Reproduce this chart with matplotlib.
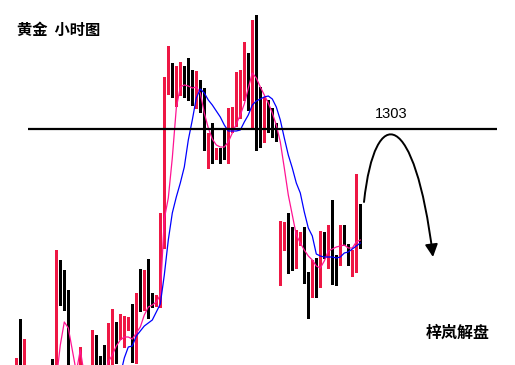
import numpy as np
import matplotlib.pyplot as plt
from matplotlib.patches import FancyArrowPatch
from matplotlib.path import Path

nan = np.nan

# gold, 1-hour bars, oldest first (nan = bar sits below the visible window)
opens = ([1277.5, 1278.5, 1277.5] + [nan] * 6 +
         [1278.5, 1278.0, 1288.7, 1287.9, 1286.9, nan, nan, 1277.5, nan, nan,
          1278.0, 1281.3, 1278.5, 1280.2, 1278.5, 1282.6, 1283.0, 1282.4, 1281.6, 1283.0,
          1283.3, 1281.0, 1285.6, 1285.2, 1287.7, 1285.9, 1285.4, 1285.4, 1291.4, 1306.6,
          1308.5, 1306.4, 1306.8, 1308.9, 1307.4, 1306.1, 1305.7, 1307.6, 1306.4, 1300.8,
          1302.6, 1300.6, 1301.0, 1301.1, 1300.6, 1303.5, 1303.6, 1304.6, 1307.1, 1309.7,
          1305.7, 1313.5, 1303.4, 1303.1, 1305.4, 1304.2, 1303.2, 1289.1, 1292.2, 1292.6,
          1291.6, 1289.9, 1291.7, 1292.4, 1288.4, 1287.2, 1288.9, 1288.8, 1291.7, 1290.7,
          1293.0, 1290.2, 1290.3, 1292.1, 1290.9, 1288.9, 1289.9, 1295.4])
highs = ([1280.1, 1284.0, 1282.0] + [nan] * 6 +
         [1280.0, 1290.9, 1289.9, 1288.9, 1286.9, nan, nan, 1281.2, nan, nan,
          1282.9, 1282.4, 1280.3, 1281.4, 1283.6, 1285.0, 1283.7, 1284.5, 1284.3, 1284.2,
          1285.5, 1286.6, 1289.0, 1288.9, 1290.0, 1286.6, 1286.4, 1294.6, 1308.2, 1311.3,
          1309.6, 1309.3, 1309.7, 1309.3, 1310.1, 1308.9, 1308.8, 1307.9, 1307.1, 1302.6,
          1303.6, 1301.1, 1301.1, 1303.0, 1305.1, 1305.2, 1308.7, 1308.9, 1311.7, 1310.6,
          1313.9, 1314.4, 1307.2, 1306.2, 1305.9, 1305.1, 1303.6, 1293.8, 1293.7, 1294.6,
          1293.2, 1292.9, 1292.7, 1293.2, 1288.7, 1289.9, 1290.1, 1292.8, 1292.7, 1293.4,
          1295.9, 1290.4, 1293.4, 1293.4, 1291.5, 1290.9, 1298.5, 1295.5])
lows = ([1277.0, 1277.0, 1277.0] + [nan] * 6 +
        [1277.0, 1277.0, 1285.4, 1284.9, 1277.0, nan, nan, 1277.0, nan, nan,
         1277.0, 1277.0, 1277.0, 1277.0, 1277.0, 1277.0, 1279.6, 1282.0, 1281.2, 1282.9,
         1279.7, 1279.6, 1284.8, 1284.9, 1284.1, 1285.2, 1285.3, 1285.2, 1291.1, 1306.5,
         1306.2, 1305.3, 1306.4, 1306.2, 1305.9, 1305.4, 1305.1, 1304.7, 1300.9, 1299.1,
         1299.6, 1300.0, 1299.6, 1300.0, 1299.6, 1302.7, 1303.3, 1304.1, 1305.9, 1304.9,
         1303.1, 1300.9, 1301.2, 1301.7, 1302.7, 1302.2, 1301.8, 1287.4, 1290.9, 1288.6,
         1288.9, 1289.1, 1291.4, 1287.6, 1284.1, 1286.2, 1286.2, 1287.2, 1290.1, 1289.1,
         1287.5, 1287.4, 1289.4, 1291.4, 1289.4, 1288.3, 1288.7, 1291.1])
closes = ([1278.5, 1277.5, 1278.5] + [nan] * 6 +
          [1277.5, 1288.8, 1287.8, 1286.7, 1278.0, nan, nan, 1278.5, nan, nan,
           1281.1, 1278.0, 1277.5, 1279.8, 1282.8, 1283.1, 1281.0, 1282.9, 1282.9, 1283.3,
           1281.1, 1285.3, 1285.0, 1287.8, 1285.4, 1285.8, 1285.6, 1291.9, 1306.7, 1308.5,
           1306.4, 1307.7, 1309.4, 1306.8, 1306.1, 1305.7, 1307.5, 1305.4, 1301.1, 1302.6,
           1300.6, 1301.0, 1300.8, 1300.6, 1304.1, 1303.8, 1307.6, 1307.4, 1309.6, 1305.9,
           1313.5, 1303.2, 1303.1, 1305.2, 1303.9, 1303.2, 1302.3, 1292.2, 1292.6, 1290.9,
           1289.9, 1292.4, 1292.5, 1288.4, 1287.2, 1288.8, 1288.6, 1291.7, 1290.8, 1292.9,
           1290.3, 1290.0, 1292.1, 1291.6, 1289.8, 1290.2, 1295.4, 1292.3])

ma_fast = ([nan] * 10 +
           [1277.9, 1281.4, 1283.7, 1283.1, 1280.9, 1278.7, 1280.9, 1278.4] + [nan] * 4 +
           [1278.4, 1279.7, 1280.4, 1281.3, 1281.9, 1282.2, 1282.2, 1282.0, 1282.6, 1283.2,
            1284.4, 1285.2, 1285.4, 1285.7, 1286.4, 1294.0, 1296.1, 1300.1, 1305.1, 1307.2,
            1307.4, 1307.3, 1307.1, 1307.2, 1306.6, 1304.6, 1303.1, 1302.0, 1301.4, 1301.2,
            1301.2, 1301.7, 1302.6, 1303.5, 1304.4, 1305.5, 1307.1, 1308.6, 1308.1, 1307.2,
            1306.4, 1305.6, 1304.6, 1303.4, 1301.7, 1299.1, 1296.4, 1294.4, 1292.4, 1291.6,
            1290.9, 1290.3, 1289.9, 1289.3, 1289.1, 1289.8, 1290.8, 1291.0, 1291.2, 1291.3,
            1291.4, 1291.1, 1291.1, 1291.7, 1291.9])
ma_slow = ([nan] * 26 +
           [1278.4, 1280.1, 1281.2, 1281.3, 1282.3, 1282.8, 1283.3, 1283.6, 1283.9, 1284.7,
            1285.5, 1288.4, 1291.9, 1294.6, 1296.2, 1297.6, 1299.2, 1301.9, 1303.9, 1306.1,
            1307.0, 1306.6, 1305.9, 1305.4, 1304.8, 1304.2, 1303.4, 1302.8, 1302.8, 1302.8,
            1302.9, 1303.7, 1304.4, 1305.4, 1305.8, 1306.0, 1306.2, 1306.3, 1306.0, 1305.2,
            1303.9, 1302.1, 1300.4, 1299.1, 1297.6, 1296.6, 1294.7, 1293.1, 1292.3, 1290.5,
            1290.3, 1290.2, 1290.2, 1290.2, 1290.1, 1290.2, 1290.6, 1290.7, 1291.0, 1291.3,
            1291.6])

resistance = 1303
title = "黄金  小时图"
signature = "梓岚解盘"

RED = "#EE1744"
PINK = "#FF1493"
BLUE = "#0000FF"

o = np.array(opens)
h = np.array(highs)
l = np.array(lows)
c = np.array(closes)
x = np.arange(len(o))
up = c >= o
col = np.where(up, RED, "black")

fig = plt.figure(figsize=(5.15, 3.65), dpi=100)
ax = fig.add_axes([0, 0, 1, 1])
ax.set_xlim(-4.075, 124.675)
ax.set_ylim(1279.4, 1315.9)
ax.axis("off")

ok = ~np.isnan(o)
ax.vlines(x[ok], l[ok], h[ok], colors=col[ok], linewidth=0.8, antialiased=False)
body = np.maximum(np.abs(c - o), 0.1)
ax.bar(x[ok], body[ok], bottom=np.minimum(o, c)[ok], width=0.75,
       color=col[ok], linewidth=0)

ax.plot(x, ma_fast, color=PINK, linewidth=0.9)
ax.plot(x, ma_slow, color=BLUE, linewidth=0.9)

ax.hlines(resistance, 2.9, 120.2, color="black", linewidth=1.6)
fig.text(391 / 515, 1 - 114 / 365, str(resistance), ha="center", va="center",
         fontsize=10.5, family="Liberation Sans")

cjk = ["Noto Sans CJK SC", "DejaVu Sans"]
fig.text(17 / 515, 1 - 29.5 / 365, title, ha="left", va="center", fontsize=11,
         family=cjk, weight="bold")
fig.text(426 / 515, 1 - 333 / 365, signature, ha="left", va="center", fontsize=11.5,
         family=cjk, weight="bold")

# curved arrow: up to the 1303 line, then back down
def fpos(px, py):
    return (px / 515, 1 - py / 365)

arc = Path([fpos(364, 202), fpos(375, 100), fpos(415, 110), fpos(433, 257)],
           [Path.MOVETO, Path.CURVE4, Path.CURVE4, Path.CURVE4])
arrow = FancyArrowPatch(path=arc, arrowstyle="-|>,head_length=0.75,head_width=0.38",
                        mutation_scale=10, color="black", linewidth=1.4,
                        shrinkA=0, shrinkB=0, transform=fig.transFigure)
fig.add_artist(arrow)

fig.savefig("out.png", dpi=100)
